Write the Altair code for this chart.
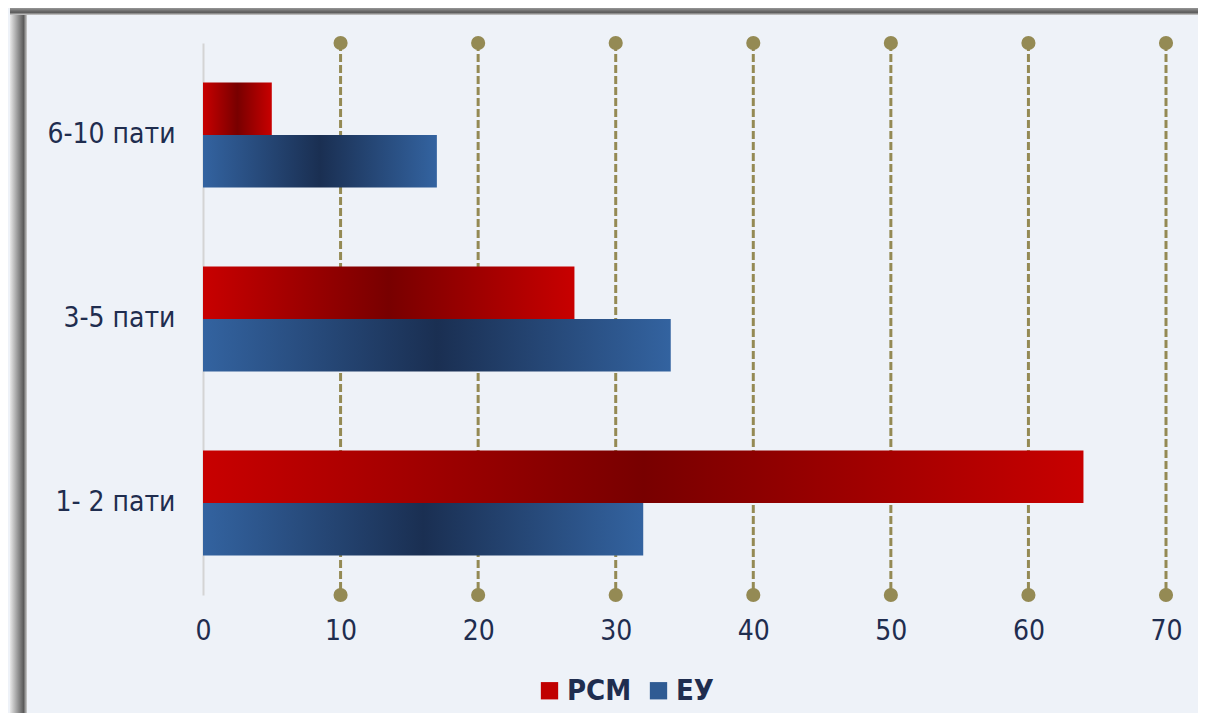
import altair as alt
import pandas as pd

categories = ["6-10 пати", "3-5 пати", "1- 2 пати"]
series = ["РСМ", "ЕУ"]
rsm_values = [5, 27, 64]
eu_values = [17, 34, 32]
grid_ticks = [10, 20, 30, 40, 50, 60, 70]

rows = []
for c, v in zip(categories, rsm_values):
    rows.append({"cat": c, "series": "РСМ", "value": v})
for c, v in zip(categories, eu_values):
    rows.append({"cat": c, "series": "ЕУ", "value": v})
df = pd.DataFrame(rows)
grid_df = pd.DataFrame({"t": grid_ticks})

W, H = 963, 552
FONT = "DejaVu Sans Condensed, Liberation Sans, sans-serif"
TXT = "#1f2d4f"
FS = 28

red_grad = alt.LinearGradient(
    gradient="linear", x1=0, x2=1, y1=0, y2=0,
    stops=[alt.GradientStop(offset=0, color="#c80000"),
           alt.GradientStop(offset=0.5, color="#780000"),
           alt.GradientStop(offset=1, color="#c80000")])
blue_grad = alt.LinearGradient(
    gradient="linear", x1=0, x2=1, y1=0, y2=0,
    stops=[alt.GradientStop(offset=0, color="#3363a0"),
           alt.GradientStop(offset=0.5, color="#1a2f52"),
           alt.GradientStop(offset=1, color="#3363a0")])

xscale = alt.Scale(domain=[0, 70], nice=False)
yscale = alt.Scale(domain=categories, paddingInner=0.43, paddingOuter=0.215)

enc_y = alt.Y("cat:N", scale=yscale, sort=categories,
              axis=alt.Axis(title=None, labelFontSize=FS, labelColor=TXT, labelFont=FONT,
                            ticks=False, domainColor="#d4d4d4", domainWidth=2,
                            labelPadding=28, grid=False))
enc_yoff = alt.YOffset("series:N", scale=alt.Scale(domain=series), sort=series)
enc_x = alt.X("value:Q", scale=xscale,
              axis=alt.Axis(title=None, values=[0] + grid_ticks, labelFontSize=FS, labelColor=TXT,
                            labelFont=FONT, ticks=False, domain=False, grid=False,
                            labelPadding=22, labelFlush=False))

base = alt.Chart(df).encode(y=enc_y, yOffset=enc_yoff, x=enc_x)

legend_layer = base.mark_bar(opacity=0).encode(
    color=alt.Color("series:N", scale=alt.Scale(domain=series, range=["#c00000", "#2f5b93"]),
                    sort=series,
                    legend=alt.Legend(title=None, orient="none", direction="horizontal",
                                      legendX=332, legendY=633, symbolType="square", symbolSize=300,
                                      labelFontSize=29, labelFontWeight="bold", labelColor=TXT,
                                      labelFont=FONT, symbolStrokeWidth=0, columnPadding=12,
                                      labelOffset=3, symbolOpacity=1)))

bars_r = base.transform_filter(alt.datum.series == "РСМ").mark_bar().encode(fill=alt.value(red_grad))
bars_b = base.transform_filter(alt.datum.series == "ЕУ").mark_bar().encode(fill=alt.value(blue_grad))

gx = alt.X("t:Q", scale=xscale)
grid_rules = alt.Chart(grid_df).mark_rule(color="#948a54", strokeWidth=3, strokeDash=[8, 3]).encode(
    x=gx, y=alt.value(0), y2=alt.value(H))
dots_top = alt.Chart(grid_df).mark_circle(color="#948a54", size=200, opacity=1).encode(x=gx, y=alt.value(0))
dots_bot = alt.Chart(grid_df).mark_circle(color="#948a54", size=200, opacity=1).encode(x=gx, y=alt.value(H))

shade_v = alt.LinearGradient(
    gradient="linear", x1=0, x2=1, y1=0, y2=0,
    stops=[alt.GradientStop(offset=0, color="#e8e8e8"),
           alt.GradientStop(offset=0.8, color="#5a5a5a"),
           alt.GradientStop(offset=1, color="#d0d0d0")])
shade_h = alt.LinearGradient(
    gradient="linear", x1=0, x2=0, y1=0, y2=1,
    stops=[alt.GradientStop(offset=0, color="#e8e8e8"),
           alt.GradientStop(offset=0.8, color="#5a5a5a"),
           alt.GradientStop(offset=1, color="#d0d0d0")])
frame_left = alt.Chart(grid_df).mark_rect().encode(
    x=alt.value(-193), x2=alt.value(-176), y=alt.value(-31), y2=alt.value(H + 140),
    fill=alt.value(shade_v))
frame_top = alt.Chart(grid_df).mark_rect().encode(
    x=alt.value(-193), x2=alt.value(W + 60), y=alt.value(-41), y2=alt.value(-28),
    fill=alt.value(shade_h))

chart = alt.layer(frame_left, frame_top, grid_rules, dots_top, dots_bot,
                  legend_layer, bars_r, bars_b).properties(
    width=W, height=H,
    autosize=alt.AutoSizeParams(type="none"),
    padding={"left": 195, "top": 35, "right": 32, "bottom": 118},
    background="#eef2f8",
).configure_view(stroke=None)

chart.save("out.html", embed_options={"renderer": "svg", "actions": False})
